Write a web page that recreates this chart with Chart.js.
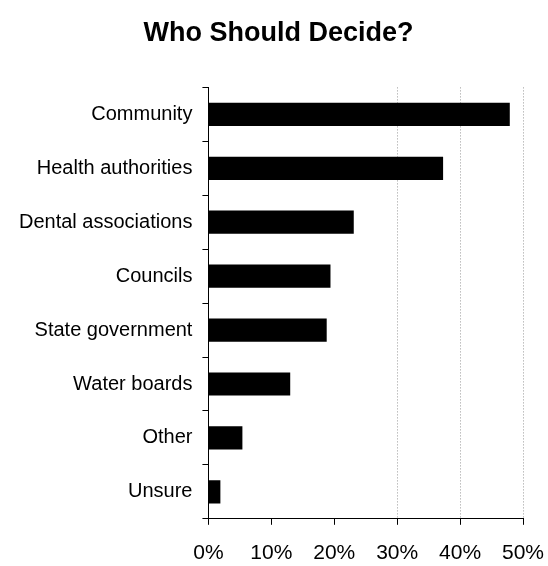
<!DOCTYPE html>
<html>
<head>
<meta charset="utf-8">
<script src="https://cdn.jsdelivr.net/npm/chart.js@4"></script>
<style>
  html, body { margin: 0; padding: 0; background: #fff; }
  #wrap { width: 548px; height: 566px; }
</style>
</head>
<body>
<div id="wrap"><canvas id="chart" width="548" height="566"></canvas></div>
<script>
const categories = [
  "Community",
  "Health authorities",
  "Dental associations",
  "Councils",
  "State government",
  "Water boards",
  "Other",
  "Unsure",
];
const shares = [47.9, 37.3, 23.1, 19.4, 18.8, 13.0, 5.4, 1.9];
const xTicks = [0, 10, 20, 30, 40, 50];

const FONT = "'Liberation Sans', Arial, sans-serif";

new Chart(document.getElementById("chart").getContext("2d"), {
  type: "bar",
  data: {
    labels: categories,
    datasets: [
      {
        label: "Share",
        data: shares,
        backgroundColor: "#000",
        borderWidth: 0,
        barPercentage: 0.43,
        categoryPercentage: 1,
      },
    ],
  },
  options: {
    indexAxis: "y",
    responsive: false,
    animation: false,
    layout: {
      padding: {left: 9, right: 0, top: 0, bottom: -16},
    },
    plugins: {
      legend: {display: false},
      tooltip: {enabled: false},
      title: {
        display: true,
        text: "Who Should Decide?",
        color: "#000",
        font: {family: FONT, size: 27, weight: "bold"},
        padding: {top: 17, bottom: 38},
      },
    },
    scales: {
      x: {
        min: 0,
        max: 50,
        afterBuildTicks: (axis) => {
          axis.ticks = xTicks.map((v) => ({value: v}));
        },
        // keep only enough room on the right for half of the "50%" label
        afterFit: (axis) => {
          axis.paddingRight = 25;
        },
        // border.dash styles the grid lines in v4, the axis line stays solid
        border: {color: "#000", width: 1, dash: [1, 2]},
        grid: {
          color: (ctx) => (ctx.tick && ctx.tick.value >= 30 ? "#999" : "rgba(0,0,0,0)"),
          tickColor: "#000",
          tickLength: 6,
          lineWidth: 1,
        },
        ticks: {
          color: "#000",
          padding: 16,
          maxRotation: 0,
          font: {family: FONT, size: 21},
          callback: (v) => v + "%",
        },
      },
      y: {
        border: {color: "#000", width: 1},
        grid: {
          drawOnChartArea: false,
          tickColor: "#000",
          tickLength: 6,
          offset: true,
        },
        ticks: {
          color: "#000",
          padding: 10,
          font: {family: FONT, size: 20},
        },
      },
    },
  },
});
</script>
</body>
</html>
